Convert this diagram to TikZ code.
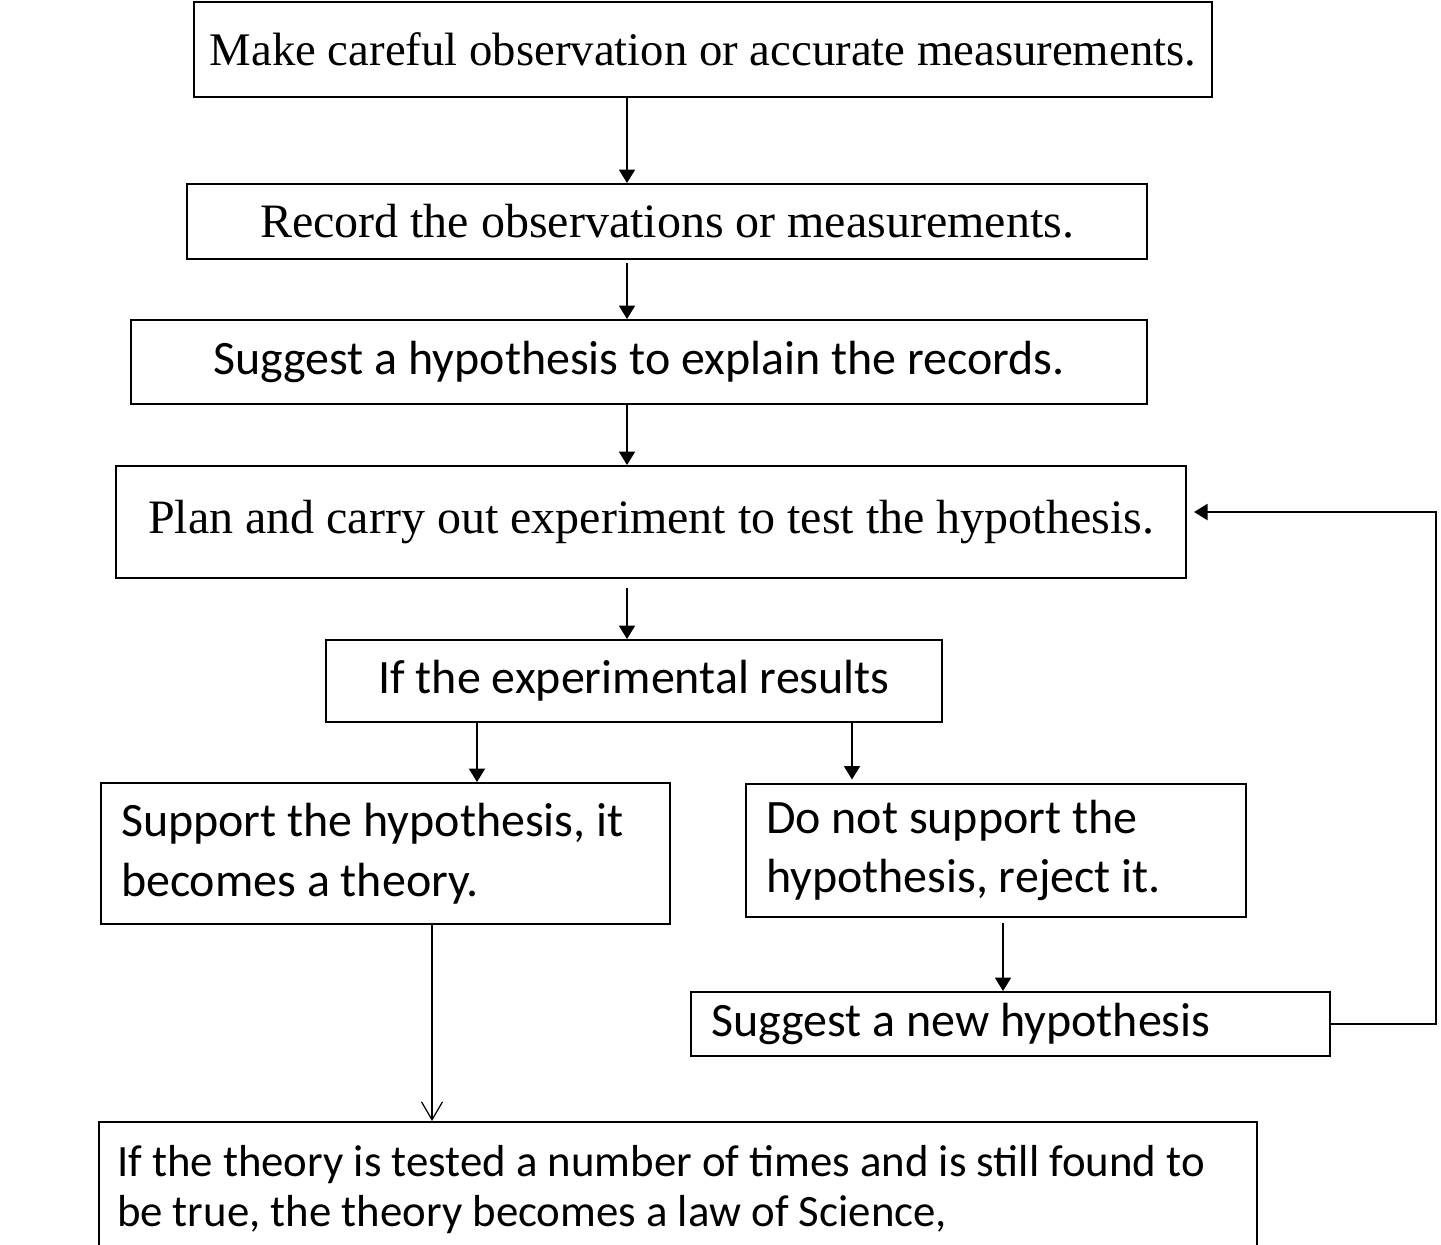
\documentclass[tikz,border=0pt]{standalone}
\usepackage{fontspec}
\setmainfont{Liberation Serif}
\newfontfamily\calibri{Carlito}
\usetikzlibrary{arrows.meta,positioning,calc}

\begin{document}
\begin{tikzpicture}[
  y=-1cm,
  tbox/.style={draw, line width=1.1pt, inner sep=0pt, align=center, font=\rmfamily\fontsize{27.3}{33}\selectfont},
  cbox/.style={draw, line width=1.1pt, inner sep=0pt, align=center, font=\calibri\fontsize{27.3}{34}\selectfont},
  lbox/.style={cbox, align=flush left, inner xsep=0.4cm},
  arr/.style={-{Triangle[length=0.27cm, width=0.32cm]}, line width=1.1pt},
  oarr/.style={-{Straight Barb[length=0.36cm, width=0.42cm, line width=0.7pt]}, line width=1pt}
]
  \useasboundingbox (0,0) rectangle (28.82,24.88);

  % main column
  \node[tbox, minimum width=20.36cm, minimum height=1.9cm, font=\rmfamily\fontsize{26.6}{33}\selectfont] (obs) at (14.06,0.99) {Make careful observation or accurate measurements.};
  \node[tbox, minimum width=19.2cm, minimum height=1.5cm] (rec) at (13.34,4.43) {Record the observations or measurements.};
  \node[cbox, minimum width=20.32cm, minimum height=1.68cm] (hyp) at (12.78,7.24) {Suggest a hypothesis to explain the records.};
  \node[tbox, minimum width=21.4cm, minimum height=2.24cm] (plan) at (13.02,10.44) {Plan and carry out experiment to test the hypothesis.};
  \node[cbox, minimum width=12.32cm, minimum height=1.64cm] (res) at (12.68,13.62) {If the experimental results};

  % two outcomes
  \node[lbox, text width=10.58cm, minimum height=2.82cm] (yes) at (7.71,17.07) {Support the hypothesis, it\\becomes a theory.};
  \node[lbox, text width=9.2cm, minimum height=2.66cm] (no) at (19.92,17.01) {Do not support the\\hypothesis, reject it.};
  \node[lbox, text width=11.98cm, minimum height=1.28cm] (new) at (20.21,20.48) {Suggest a new hypothesis};
  \node[lbox, inner xsep=0.36cm, text width=22.44cm, minimum height=2.72cm, anchor=north,
        font=\calibri\fontsize{25.5}{28.5}\selectfont] (law) at (13.56,22.42)
    {If the theory is tested a number of times and is still found to\\be true, the theory becomes a law of Science,};

  % arrow columns
  \coordinate (mid) at (12.54,0);
  \coordinate (lft) at (9.54,0);
  \coordinate (rgt) at (17.04,0);
  \coordinate (thy) at (8.64,0);
  \coordinate (rej) at (20.06,0);
  \coordinate (loopB) at (28.72,20.48);
  \coordinate (loopT) at (28.72,10.24);

  \draw[arr] (obs.south -| mid) -- (rec.north -| mid);
  \draw[arr] ([yshift=-2pt]rec.south -| mid) -- (hyp.north -| mid);
  \draw[arr] (hyp.south -| mid) -- (plan.north -| mid);
  \draw[arr] ([yshift=-5pt]plan.south -| mid) -- (res.north -| mid);
  \draw[arr] (res.south -| lft) -- (yes.north -| lft);
  \draw[arr] (res.south -| rgt) -- ([yshift=2pt]no.north -| rgt);
  \draw[oarr] (yes.south -| thy) -- (law.north -| thy);
  \draw[arr] ([yshift=-3pt]no.south -| rej) -- (new.north -| rej);

  % back to planning
  \draw[arr] (new.east) -- (loopB) -- (loopT) -- ([xshift=4pt]plan.east |- loopT);
\end{tikzpicture}
\end{document}
